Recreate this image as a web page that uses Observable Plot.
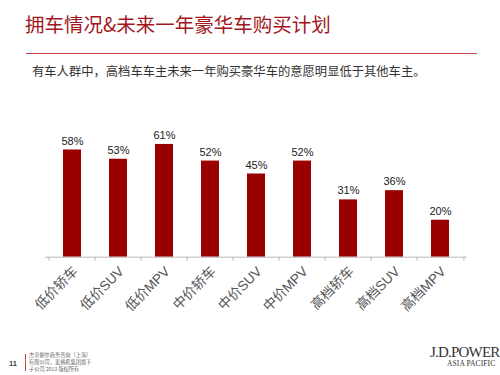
<!DOCTYPE html>
<html><head><meta charset="utf-8">
<script src="https://cdn.jsdelivr.net/npm/d3@7"></script>
<script src="https://cdn.jsdelivr.net/npm/@observablehq/plot@0.6"></script>
<style>
html,body{margin:0;padding:0;background:#fff;}
body{width:500px;height:375px;position:relative;overflow:hidden;font-family:"Liberation Sans","Noto Sans CJK SC",sans-serif;}
#title{position:absolute;left:25px;top:14px;font-size:19.5px;color:#a3161d;font-family:"Noto Sans CJK SC",sans-serif;white-space:nowrap;line-height:1;}
#rule{position:absolute;left:26px;top:53px;width:451px;height:1px;background:#c8484a;}
#sub{position:absolute;left:32px;top:64px;font-size:12.3px;color:#333;font-family:"Noto Sans CJK SC",sans-serif;white-space:nowrap;line-height:1.2;}
#chart{position:absolute;left:0;top:110px;}
#pg{position:absolute;left:9px;top:359px;font-size:7.5px;font-weight:bold;color:#444;}
#vl{position:absolute;left:25px;top:354px;width:1px;height:17px;background:#c8484a;}
#ft{position:absolute;left:29px;top:351px;font-size:5.2px;line-height:7px;color:#666;font-family:"Noto Sans CJK SC",sans-serif;white-space:nowrap;}
#logo{position:absolute;left:430px;top:345px;font-family:"Liberation Serif",serif;color:#333;white-space:nowrap;}
#logo .a{font-size:15px;letter-spacing:-0.8px;line-height:15px;}
#logo .b{font-size:7.5px;line-height:8px;margin-left:17px;letter-spacing:0.1px;}
</style></head>
<body>
<div id="title">拥车情况&amp;未来一年豪华车购买计划</div>
<div id="rule"></div>
<div id="sub">有车人群中，高档车车主未来一年购买豪华车的意愿明显低于其他车主。</div>
<div id="chart"></div>
<div id="pg">11</div>
<div id="vl"></div>
<div id="ft">杰帝鲍尔商务咨询（上海）<br>有限公司，麦格希集团旗下<br>子公司 2013 版权所有</div>
<div id="logo"><div class="a">J.D.POWER</div><div class="b">ASIA PACIFIC</div></div>
<script>
const categories = ["低价轿车","低价SUV","低价MPV","中价轿车","中价SUV","中价MPV","高档轿车","高档SUV","高档MPV"];
const values = [58, 53, 61, 52, 45, 52, 31, 36, 20];

const data = categories.map((c, i) => ({cat: c, v: values[i]}));
const W = 500, H = 210, ML = 45, MR = 33.3;
const step = (W - ML - MR) / categories.length;
const pInner = 0.6;

const chart = Plot.plot({
  width: W, height: H,
  marginLeft: ML, marginRight: MR, marginTop: 17.3, marginBottom: 63.3,
  style: {fontFamily: '"Liberation Sans","Noto Sans CJK SC",sans-serif', background: "transparent"},
  x: {domain: categories, paddingInner: pInner, paddingOuter: pInner / 2, label: null},
  y: {domain: [0, 70], axis: null},
  marks: [
    Plot.barY(data, {x: "cat", y: "v", fill: "#990000"}),
    Plot.ruleY([0], {stroke: "#b8b8b8"}),
    Plot.axisX({tickSize: 4, text: null, dx: -step / 2, stroke: "#b8b8b8", label: null}),
    Plot.axisX({ticks: [categories[categories.length - 1]], tickSize: 4, text: null, dx: step / 2, stroke: "#b8b8b8", label: null}),
    Plot.text(data, {x: "cat", y: "v", text: d => d.v + "%", dy: -9, fill: "#222", fontSize: 11}),
    Plot.axisX({tickSize: 0, tickPadding: 12, tickRotate: -45, fontSize: 13.5, fill: "#555", dx: 3, label: null})
  ]
});
document.getElementById("chart").appendChild(chart);
</script>
</body></html>
